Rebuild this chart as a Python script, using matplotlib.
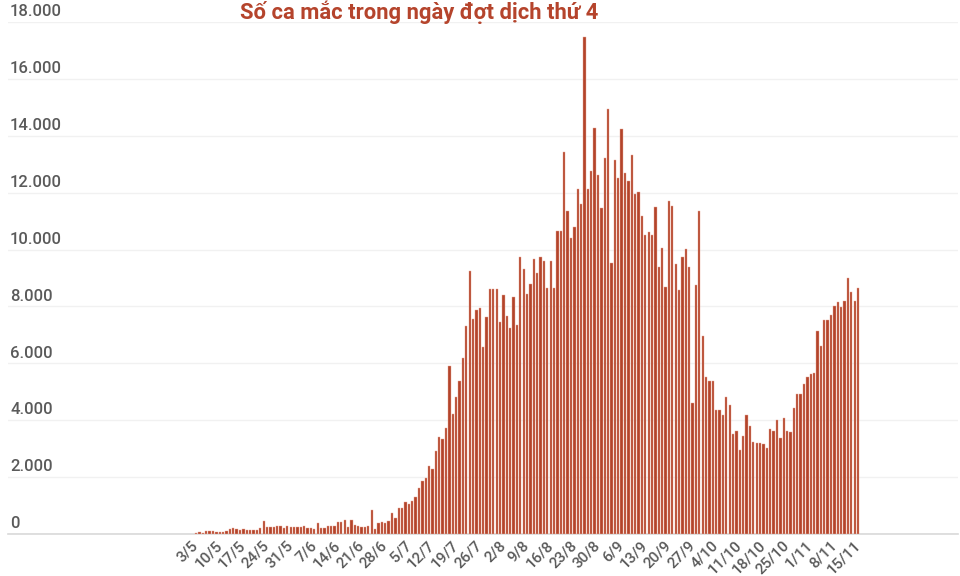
import matplotlib
matplotlib.use("Agg")
import matplotlib.pyplot as plt
import matplotlib.transforms as mtransforms
import numpy as np

# daily cases, 3/5 -> 15/11 (one value per day)
may = [25, 60, 40, 95, 95, 117, 80, 80, 80, 117, 175, 210, 175, 150, 175, 130,
       150, 150, 150, 210, 470, 235, 235, 260, 290, 270, 210, 270, 235]
jun = [235, 235, 235, 270, 210, 210, 175, 380, 210, 210, 270, 290, 270, 410,
       435, 500, 260, 480, 315, 270, 235, 235, 290, 860, 175, 380, 410, 380,
       470, 730]
jul = [560, 920, 900, 1110, 1040, 1150, 1310, 1617, 1852, 1969, 2391, 2297,
       2930, 3399, 3340, 3715, 5907, 4219, 4806, 5369, 6188, 7314, 9236, 7548,
       7876, 7935, 6587, 7619, 8626, 8626, 8615]
aug = [7466, 8392, 7665, 7255, 8322, 7361, 9730, 9330, 8427, 8790, 9680, 9165,
       9750, 9588, 8661, 9610, 8661, 10665, 10665, 13443, 11368, 10397, 10806,
       12119, 11592, 17465, 12119, 12763, 14264, 12623, 11452]
sep = [13232, 14932, 9540, 13150, 12507, 14229, 12681, 12423, 13338, 11955,
       12036, 11181, 10513, 10619, 10513, 11509, 9377, 10060, 8697, 11720,
       11544, 9490, 8580, 9725, 10015, 9377, 4595, 8755, 11368, 6975]
oct_ = [5509, 5390, 5390, 4360, 4360, 4172, 4806, 4536, 3516, 3633, 2954, 3457,
        4184, 3809, 3224, 3189, 3189, 3150, 3036, 3680, 3633, 4008, 3364, 4067,
        3633, 3598, 4418, 4912, 4912, 5263, 5531]
nov = [5626, 5650, 7138, 6610, 7525, 7525, 7690, 8017, 8158, 7971, 8203, 9001,
       8509, 8203, 8638]
cases = may + jun + jul + aug + sep + oct_ + nov

tick_labels = ["3/5", "10/5", "17/5", "24/5", "31/5", "7/6", "14/6", "21/6",
               "28/6", "5/7", "12/7", "19/7", "26/7", "2/8", "9/8", "16/8",
               "23/8", "30/8", "6/9", "13/9", "20/9", "27/9", "4/10", "11/10",
               "18/10", "25/10", "1/11", "8/11", "15/11"]
y_ticks = [0, 2000, 4000, 6000, 8000, 10000, 12000, 14000, 16000, 18000]

bar_color = "#b3442b"
grey = "#5a5a5a"

fig = plt.figure(figsize=(9.6, 5.76), dpi=100)
ax = fig.add_axes([8 / 960, 1 - 534 / 576, 950 / 960, (534 - 22) / 576])

x = np.arange(len(cases))
ax.bar(x, cases, width=0.68, color=bar_color, edgecolor="#e9a593",
       linewidth=0.3, zorder=3)

ax.set_ylim(0, 18000)
ax.set_xlim(-55.7, 225.6)

ax.set_yticks(y_ticks)
ax.set_yticklabels([])
ax.tick_params(axis="y", length=0)
ax.grid(axis="y", color="#f1f1f1", linewidth=1, zorder=0)
for v in y_ticks:
    ax.annotate(f"{v:,}".replace(",", "."), xy=(0, v),
                xycoords=ax.get_yaxis_transform(), xytext=(1.5, 2),
                textcoords="offset points", ha="left", va="bottom",
                fontsize=12, color=grey, family="Roboto", fontweight="medium")

ax.set_xticks(np.arange(0, len(cases), 7))
ax.set_xticklabels(tick_labels, rotation=45, ha="right", va="top",
                   rotation_mode="anchor", fontsize=11, color=grey,
                   family="Roboto", fontweight="medium")
ax.tick_params(axis="x", length=0, pad=3)
shift = mtransforms.ScaledTranslation(-5 / 100, 0, fig.dpi_scale_trans)
for lab in ax.get_xticklabels():
    lab.set_transform(lab.get_transform() + shift)

for s in ["top", "right", "left"]:
    ax.spines[s].set_visible(False)
ax.spines["bottom"].set_color("#d9d9d9")
ax.spines["bottom"].set_linewidth(1.2)

fig.text(419 / 960, 1 - 12 / 576, "Số ca mắc trong ngày đợt dịch thứ 4",
         ha="center", va="center", fontsize=15.8, fontweight="bold",
         color="#b5442c", family="Roboto")

fig.savefig("out.png", dpi=100)
